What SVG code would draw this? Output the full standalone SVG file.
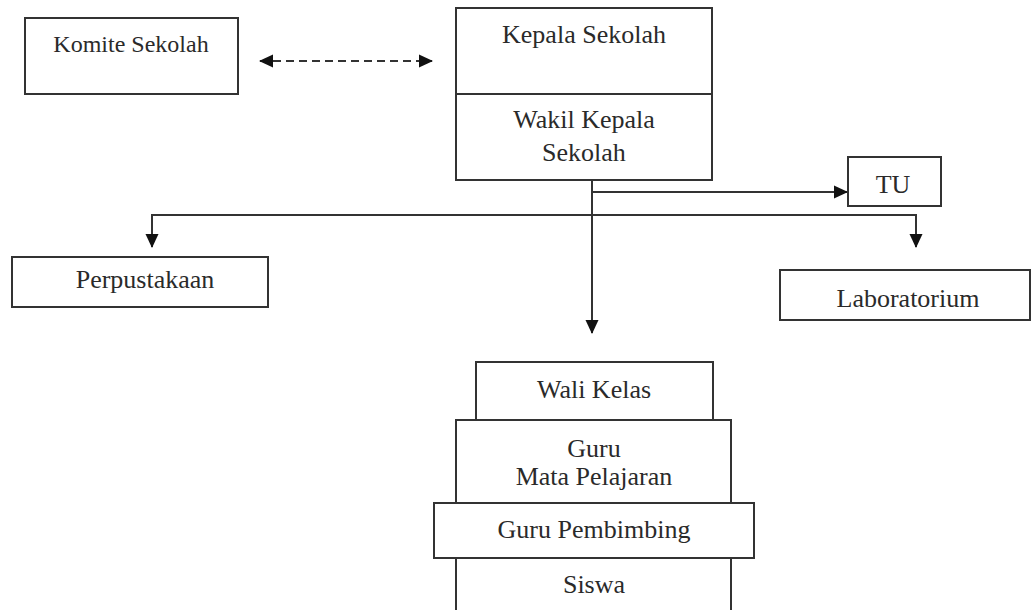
<svg xmlns="http://www.w3.org/2000/svg" width="1031" height="610" viewBox="0 0 1031 610">
<style>
.box{fill:#fff;stroke:#333;stroke-width:2}
.t{font-family:'Liberation Serif','Times New Roman',Times,'DejaVu Serif',serif;font-size:26px;fill:#2a2a2a;text-anchor:middle}
.ln{fill:none;stroke:#333;stroke-width:2}
</style>
<defs>
<marker id="as" viewBox="0 0 14 14" refX="13" refY="7" markerWidth="14" markerHeight="14" markerUnits="userSpaceOnUse" orient="auto-start-reverse">
<path d="M0,0.5 L14,7 L0,13.5 Z" fill="#111"/>
</marker>
</defs>
<g id="connectors">
<line class="ln" x1="260" y1="61" x2="432" y2="61" stroke-dasharray="8,5" marker-start="url(#as)" marker-end="url(#as)"/>
<line class="ln" x1="592" y1="181" x2="592" y2="333" marker-end="url(#as)"/>
<line class="ln" x1="592" y1="192" x2="847" y2="192" marker-end="url(#as)"/>
<polyline class="ln" points="152,247 152,215 916,215 916,247" marker-start="url(#as)" marker-end="url(#as)"/>
</g>
<g id="komite">
<rect class="box" x="25" y="18" width="213" height="76"/>
<text class="t" style="font-size:24px" x="131" y="52">Komite Sekolah</text>
</g>
<g id="kepala">
<rect class="box" x="456" y="8" width="256" height="86"/>
<text class="t" x="584" y="43">Kepala Sekolah</text>
</g>
<g id="wakil">
<rect class="box" x="456" y="94" width="256" height="86"/>
<text class="t" x="584" y="128">Wakil Kepala</text>
<text class="t" x="584" y="161">Sekolah</text>
</g>
<g id="tu">
<rect class="box" x="848" y="157" width="93" height="49"/>
<text class="t" x="893" y="193">TU</text>
</g>
<g id="perpustakaan">
<rect class="box" x="12" y="257" width="256" height="50"/>
<text class="t" x="145" y="288">Perpustakaan</text>
</g>
<g id="laboratorium">
<rect class="box" x="780" y="270" width="250" height="50"/>
<text class="t" x="908" y="307">Laboratorium</text>
</g>
<g id="siswa">
<rect class="box" x="456" y="558" width="275" height="60"/>
<text class="t" x="594" y="593">Siswa</text>
</g>
<g id="wali-kelas">
<rect class="box" x="476" y="362" width="237" height="58"/>
<text class="t" x="594" y="398">Wali Kelas</text>
</g>
<g id="guru-mapel">
<rect class="box" x="456" y="420" width="275" height="83"/>
<text class="t" x="594" y="457">Guru</text>
<text class="t" x="594" y="485">Mata Pelajaran</text>
</g>
<g id="guru-pembimbing">
<rect class="box" x="434" y="503" width="320" height="55"/>
<text class="t" x="594" y="538">Guru Pembimbing</text>
</g>
</svg>
